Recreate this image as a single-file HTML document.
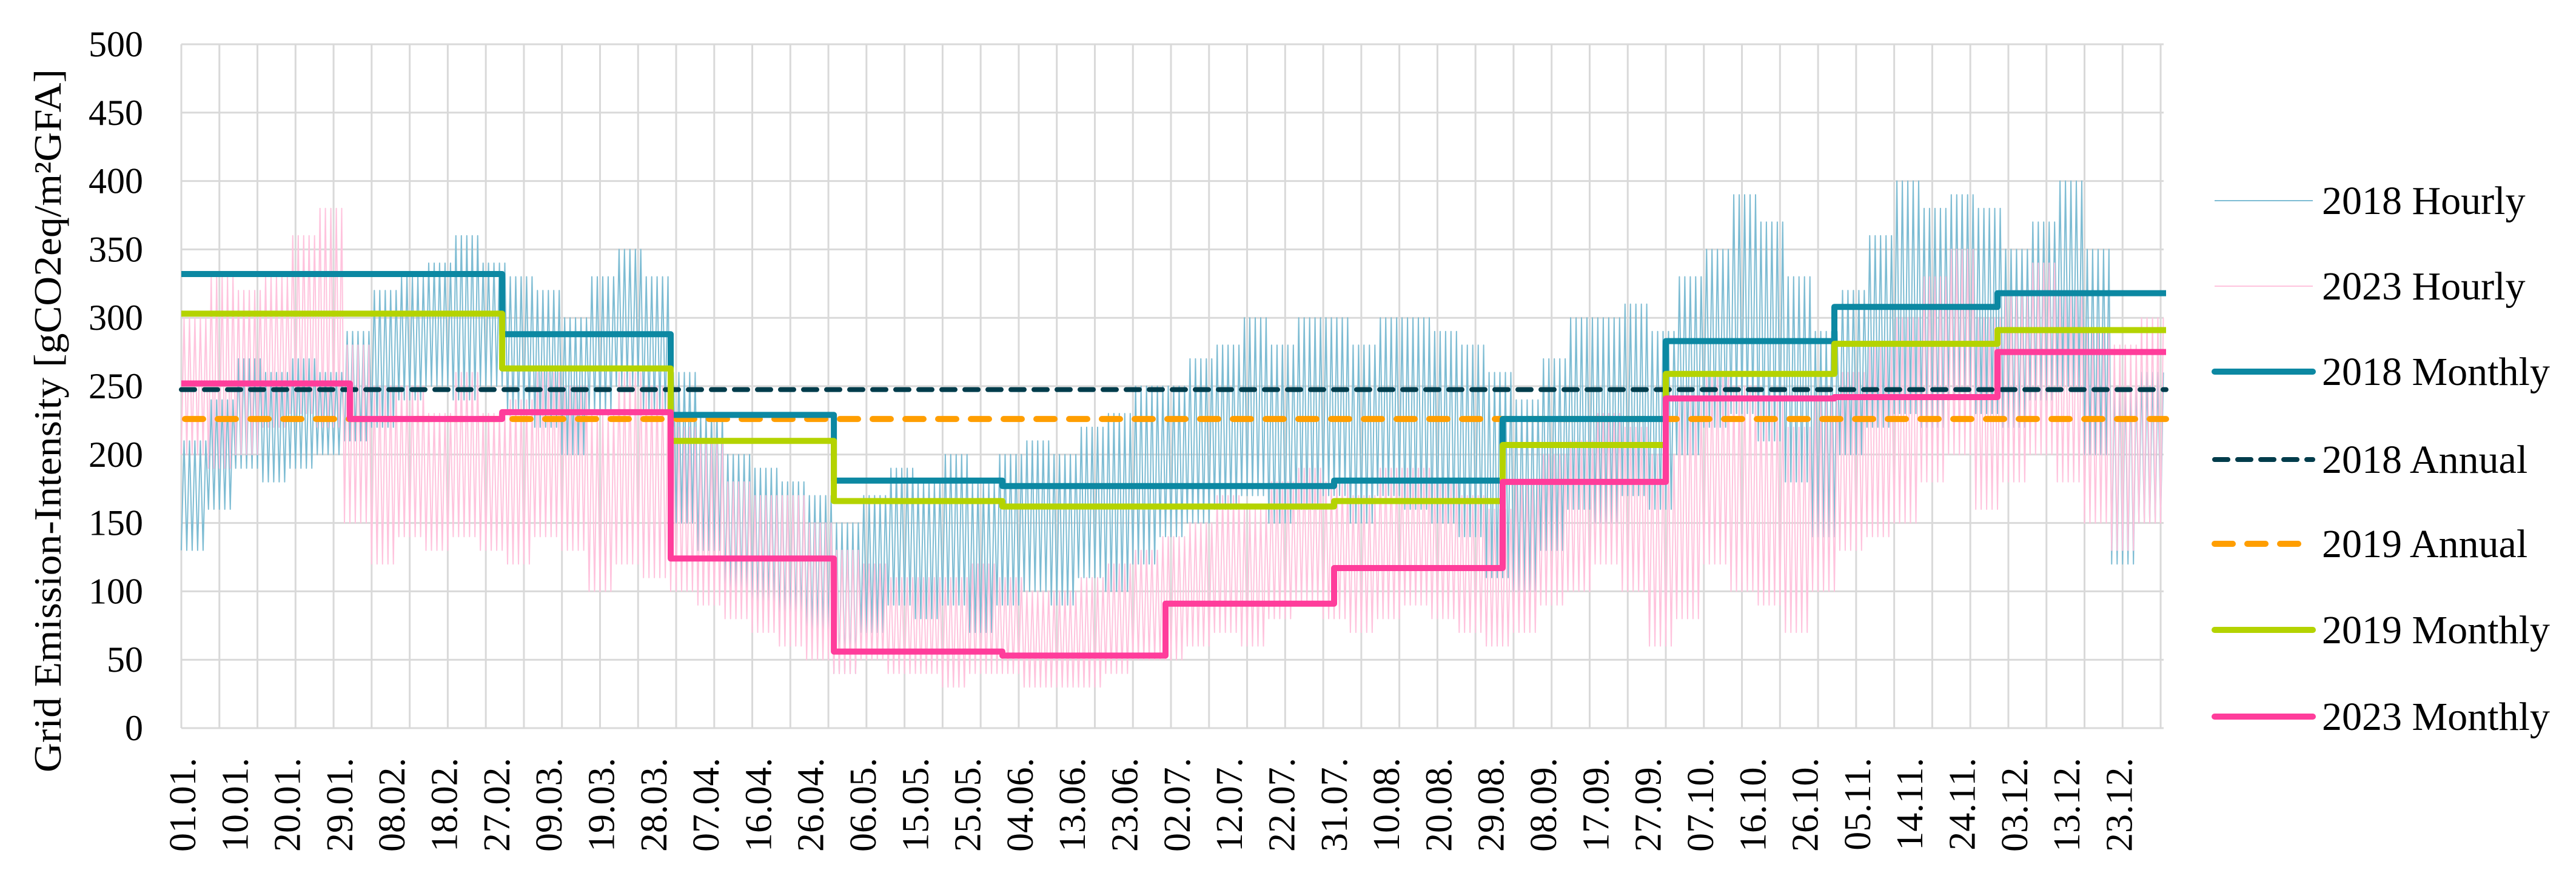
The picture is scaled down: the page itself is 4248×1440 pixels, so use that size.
<!DOCTYPE html>
<html><head><meta charset="utf-8"><style>
html,body{margin:0;padding:0;background:#fff;}
svg{display:block;font-family:"Liberation Serif",serif;}
</style></head><body>
<svg id="chart" width="4248" height="1440" viewBox="0 0 4248 1440" xmlns="http://www.w3.org/2000/svg">
<rect width="4248" height="1440" fill="#fff"/>
<g id="grid"></g>
<g id="yticks"></g>
<g id="xticks"></g>
<g id="series"></g>
<text transform="translate(100,694) rotate(-90)" text-anchor="middle" font-size="64" textLength="1160" lengthAdjust="spacingAndGlyphs" fill="#000">Grid Emission-Intensity [gCO2eq/m²GFA]</text>
<g id="legend"></g>
</svg>
<script>
// ---- data ----
const yTicks = [0,50,100,150,200,250,300,350,400,450,500];
const xLabels = ["01.01.","10.01.","20.01.","29.01.","08.02.","18.02.","27.02.","09.03.","19.03.","28.03.","07.04.","16.04.","26.04.","06.05.","15.05.","25.05.","04.06.","13.06.","23.06.","02.07.","12.07.","22.07.","31.07.","10.08.","20.08.","29.08.","08.09.","17.09.","27.09.","07.10.","16.10.","26.10.","05.11.","14.11.","24.11.","03.12.","13.12.","23.12."];
const monthStarts = [0,31,59,90,120,151,181,212,243,273,304,334];
const monthly2018 = [332,332,288,229,181,177,177,181,226,283,308,318];
const monthly2019 = [303,303,263,210,166,162,162,166,207,259,281,291];
const monthly2023 = [252,226,231,124,56,53,91,117,180,241,242,275];
const annual2018 = 247.5;
const annual2019 = 226;
// hourly envelopes per 5-day window (low, high)
const hourly2018Low  = [130,160,190,180,190,200,210,220,240,250,240,250,230,220,200,230,250,230,150,130,100,90,80,70,40,70,90,80,90,70,90,100,90,110,100,120,140,150,160,170,150,160,170,150,170,160,150,140,110,100,130,160,150,170,160,200,220,230,210,180,140,200,220,230,220,240,230,220,240,250,200,120,150];
const hourly2018High = [210,240,270,260,270,260,290,320,330,340,360,340,330,320,300,330,350,330,260,230,200,190,180,170,150,170,190,180,200,180,200,210,200,220,230,250,250,270,280,300,280,300,300,280,300,300,290,280,260,240,270,300,300,310,290,330,350,390,370,330,290,320,360,400,380,390,380,350,370,400,350,260,260];
const hourly2023Low  = [200,190,200,220,230,220,150,120,140,130,140,130,120,140,130,100,120,110,100,90,80,70,60,50,40,50,40,40,30,40,40,30,30,30,40,50,50,60,70,60,80,90,80,70,80,90,80,70,60,70,90,100,120,100,60,80,120,100,90,70,100,130,140,150,180,200,160,180,200,180,150,130,150];
const hourly2023High = [300,330,320,330,360,380,280,250,250,230,260,230,240,260,250,230,260,250,220,210,180,170,170,150,130,120,110,110,110,120,110,100,100,110,120,130,140,150,170,160,180,190,180,170,190,190,180,170,160,180,200,210,230,220,200,240,260,250,240,220,240,260,280,300,330,350,300,320,340,320,290,280,300];

// ---- axes ----
const X0 = 299, X1 = 3572, PXD = (X1 - X0) / 365;
const Y0 = 1201, YTOP = 73;
const xDay = d => X0 + d * PXD;
const yVal = v => Y0 - (v / 500) * (Y0 - YTOP);
const NS = "http://www.w3.org/2000/svg";
function mk(tag, attrs, parent){ const e=document.createElementNS(NS,tag); for(const k in attrs) e.setAttribute(k,attrs[k]); parent.appendChild(e); return e; }

// grid
const grid = document.getElementById('grid');
yTicks.forEach(v=>{
  const l = mk('line',{x1:X0,x2:X1-4,y1:yVal(v),y2:yVal(v),stroke:'#d9d9d9','stroke-width':3},grid);
  
  
});
for(let w=0; w<=52; w++){
  const l = mk('line',{x1:xDay(w*7),x2:xDay(w*7),y1:YTOP,y2:Y0,stroke:'#d9d9d9','stroke-width':3},grid);
  
  
}
// y ticks
const yt = document.getElementById('yticks');
yTicks.forEach(v=>{
  const t = mk('text',{x:236,y:yVal(v)+20,'text-anchor':'end','font-size':60,fill:'#000'},yt);
  t.textContent = v;
  
  
});
// x ticks
const xt = document.getElementById('xticks');
xLabels.forEach((s,i)=>{
  const cx = xDay(i*9.625) + 3;
  const t = mk('text',{transform:`translate(${cx+20},1250) rotate(-90)`,'text-anchor':'end','font-size':62,fill:'#000'},xt);
  t.textContent = s;
  
  
});

// series
const sg = document.getElementById('series');
function hourlyPath(lo, hi){
  const n = lo.length; let d=''; let first=true;
  for(let i=0;i<n;i++){
    for(let k=0;k<5;k++){
      const da = i*5 + k, db = i*5 + k + 0.5;
      if(da>365) break;
      d += (first?'M':'L') + xDay(da).toFixed(1)+','+yVal(lo[i]).toFixed(1);
      first=false;
      d += 'L' + xDay(Math.min(db,365)).toFixed(1)+','+yVal(hi[i]).toFixed(1);
    }
  }
  return d;
}
function stepPath(vals){
  let d='';
  vals.forEach((v,i)=>{
    const a = monthStarts[i], b = i+1<monthStarts.length ? monthStarts[i+1] : 365;
    d += (i===0?'M':'L') + xDay(a).toFixed(1)+','+yVal(v).toFixed(1) + 'L' + xDay(b).toFixed(1)+','+yVal(v).toFixed(1);
  });
  return d;
}
const h18 = mk('path',{d:hourlyPath(hourly2018Low,hourly2018High),fill:'none',stroke:'#7dbcd3','stroke-width':2,'stroke-linejoin':'round'},sg);


const h23 = mk('path',{d:hourlyPath(hourly2023Low,hourly2023High),fill:'none',stroke:'#ffc3dd','stroke-width':2,'stroke-linejoin':'round'},sg);


const a18 = mk('line',{x1:xDay(0),x2:xDay(365),y1:yVal(annual2018),y2:yVal(annual2018),stroke:'#003c4b','stroke-width':8,'stroke-dasharray':'22 16','stroke-linecap':'round'},sg);


const a19 = mk('line',{x1:xDay(0)+6,x2:xDay(365),y1:yVal(annual2019),y2:yVal(annual2019),stroke:'#ff9e00','stroke-width':10,'stroke-dasharray':'30 24','stroke-linecap':'round'},sg);


const m18 = mk('path',{d:stepPath(monthly2018),fill:'none',stroke:'#0c88a2','stroke-width':10,'stroke-linejoin':'round'},sg);


const m19 = mk('path',{d:stepPath(monthly2019),fill:'none',stroke:'#b4d300','stroke-width':10,'stroke-linejoin':'round'},sg);


const m23 = mk('path',{d:stepPath(monthly2023),fill:'none',stroke:'#ff3d9b','stroke-width':10,'stroke-linejoin':'round'},sg);



// legend
const lg = document.getElementById('legend');
const legendNames = ["2018 Hourly","2023 Hourly","2018 Monthly","2018 Annual","2019 Annual","2019 Monthly","2023 Monthly"];
const legendY = [331,472,613,758,897,1039,1182];
const legendStyle = [
 {stroke:'#7dbcd3',w:2,dash:'',cap:'butt'},
 {stroke:'#ffc3dd',w:2,dash:'',cap:'butt'},
 {stroke:'#0c88a2',w:10,dash:'',cap:'round'},
 {stroke:'#003c4b',w:8,dash:'22 16',cap:'round'},
 {stroke:'#ff9e00',w:10,dash:'30 24',cap:'round'},
 {stroke:'#b4d300',w:10,dash:'',cap:'round'},
 {stroke:'#ff3d9b',w:10,dash:'',cap:'round'}];
legendNames.forEach((n,i)=>{
  const g = mk('g',{},lg);
  
  
  const st = legendStyle[i];
  const attrs = {x1:3652,x2:3814,y1:legendY[i],y2:legendY[i],stroke:st.stroke,'stroke-width':st.w,'stroke-linecap':st.cap};
  if(st.dash) attrs['stroke-dasharray']=st.dash;
  const l = mk('line',attrs,g);
  
  
  const t = mk('text',{x:3829,y:legendY[i]+22,'font-size':66,fill:'#000'},g);
  t.textContent = n;
  
  
});
</script>
</body></html>
